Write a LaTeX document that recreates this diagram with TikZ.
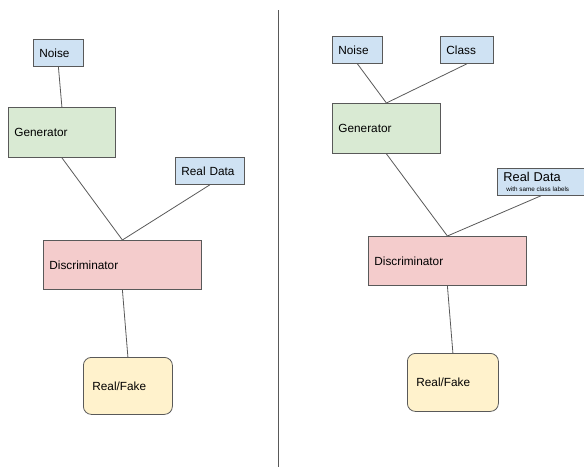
\documentclass[tikz,border=0pt]{standalone}
\usepackage{fontspec}
\setmainfont{Liberation Sans}
\definecolor{boxline}{HTML}{595959}
\definecolor{inblue}{HTML}{CFE2F3}
\definecolor{gengreen}{HTML}{D9EAD3}
\definecolor{discred}{HTML}{F4CCCC}
\definecolor{outyellow}{HTML}{FFF2CC}
\tikzset{
	box/.style={draw=boxline, line width=0.8pt, anchor=north west, inner xsep=6pt, inner ysep=0pt,
		align=left, font=\fontsize{11.8}{13}\selectfont},
	link/.style={draw=boxline, line width=0.8pt}
}
\begin{document}
\begin{tikzpicture}[x=1pt, y=-1pt]
		\useasboundingbox (0,0) rectangle (584,467);
		
		% left: plain GAN
		\node[box, fill=inblue, minimum height=27pt, text width=38pt] (noiseL) at (33,39) {Noise};
		\node[box, fill=gengreen, minimum height=50pt, text width=95pt] (genL) at (8,107) {Generator};
		\node[box, fill=inblue, minimum height=27pt, text width=57pt] (realL) at (175,157) {Real Data};
		\node[box, fill=discred, minimum height=49pt, text width=146pt] (discL) at (43,240) {Discriminator};
		\node[box, fill=outyellow, rounded corners=8pt, inner xsep=9pt, minimum height=57pt, text width=71pt] (outL) at (83,357) {Real/Fake};
		
		\draw[link] (noiseL.south) -- (genL.north);
		\draw[link] (genL.south) -- (discL.north);
		\draw[link] (realL.south) -- (discL.north);
		\draw[link] (discL.south) -- (outL.north);
		
		% divider
		\coordinate (divtop) at (278,10);
		\coordinate (divbot) at (278,467);
		\draw[link] (divtop) -- (divbot);
		
		% right: conditional GAN
		\node[box, fill=inblue, minimum height=27pt, text width=38pt] (noiseR) at (332,36) {Noise};
		\node[box, fill=inblue, minimum height=27pt, text width=41pt] (classR) at (440,36) {Class};
		\node[box, fill=gengreen, minimum height=50pt, text width=96pt] (genR) at (332,103) {Generator};
		\node[box, fill=inblue, minimum height=27pt, text width=75pt, inner ysep=1pt] (realR) at (497,168)
			{\fontsize{12.8}{13}\selectfont Real Data\\[-3pt]\mbox{\hspace*{3pt}\fontsize{6.3}{7}\selectfont\spaceskip=0.28em with same class labels}};
		\node[box, fill=discred, minimum height=49pt, text width=146pt] (discR) at (368,236) {Discriminator};
		\node[box, fill=outyellow, rounded corners=8pt, inner xsep=9pt, minimum height=58pt, text width=73pt] (outR) at (407,353) {Real/Fake};
		
		\draw[link] (noiseR.south) -- (genR.north);
		\draw[link] (classR.south) -- (genR.north);
		\draw[link] (genR.south) -- (discR.north);
		\draw[link] (realR.south) -- (discR.north);
		\draw[link] (discR.south) -- (outR.north);
\end{tikzpicture}
\end{document}
